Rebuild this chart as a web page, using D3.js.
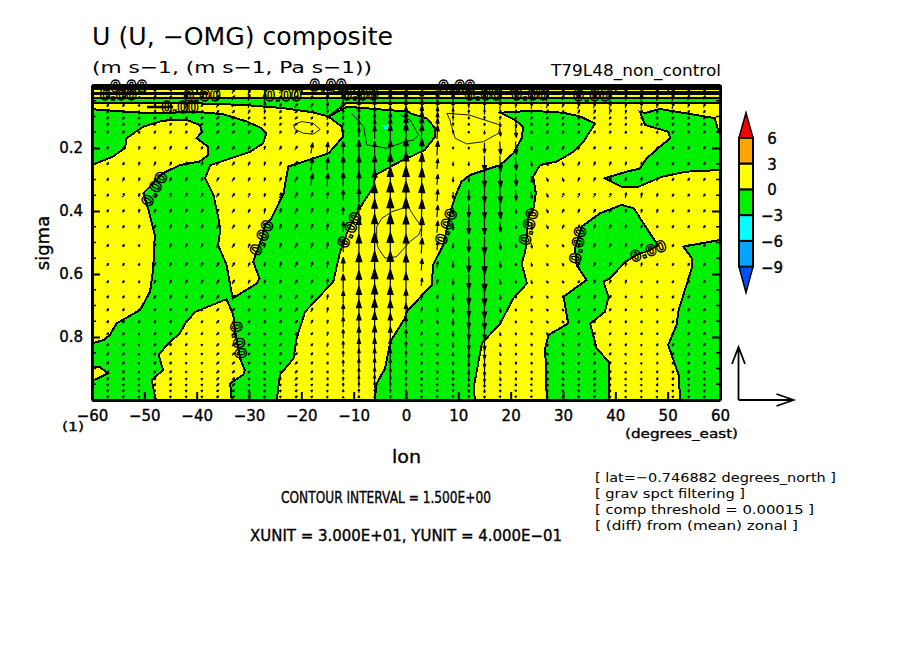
<!DOCTYPE html>
<html>
<head>
<meta charset="utf-8">
<script src="https://cdn.jsdelivr.net/npm/d3@7"></script>
<style>
body{margin:0;background:#fff;}
text{font-family:"DejaVu Sans",sans-serif;fill:#000;}
.heavy{stroke:#000;stroke-width:.35;}
.plot-shape{shape-rendering:crispEdges;}
</style>
</head>
<body>
<div id="canvas"></div>
<script>
// axis ticks and labels
var lonTicks = [-60,-50,-40,-30,-20,-10,0,10,20,30,40,50,60];
var sigmaMajor = [0,0.2,0.4,0.6,0.8,1];
var sigmaMinor = [0.05,0.1,0.15,0.25,0.3,0.35,0.45,0.5,0.55,0.65,0.7,0.75,0.85,0.9,0.95];

// colour bar
var barLevels = [-9,-6,-3,0,3,6];
var barColors = ['#00a5ff','#00ffff','#00f000','#ffff00','#ffa500'];
var barLabels = ['\u22129','\u22126','\u22123','0','3','6'];

// zero contour regions, [lon, sigma]
var greenWest = [[-60,.077],[-49,.09],[-40,.085],[-34.9,.093],[-30.4,.116],[-27.6,.137],[-26.7,.153],[-27.3,.185],[-29.8,.212],[-33.6,.233],[-37.4,.254],[-38.4,.296],[-36.8,.349],[-35.9,.418],[-35.5,.46],[-35.9,.508],[-34.3,.571],[-33.6,.635],[-33.1,.677],[-28.5,.63],[-28,.614],[-29.2,.561],[-28.5,.529],[-27.6,.487],[-26.9,.444],[-25.7,.423],[-23.4,.344],[-22.5,.259],[-17.7,.233],[-14.8,.217],[-12,.164],[-12.3,.132],[-14.8,.1005],[-11.3,.069],[.45,.0847],[.8,.09],[4,.106],[5.55,.137],[5.55,.164],[3.6,.206],[-1.14,.243],[-5.9,.286],[-6.2,.323],[-9.1,.397],[-11.3,.471],[-12.6,.529],[-13.9,.624],[-19.3,.72],[-20.9,.804],[-21.5,.868],[-24.1,.92],[-24.7,1],[-33.3,1],[-33.6,.947],[-31.1,.92],[-30.8,.905],[-31.7,.868],[-32.7,.778],[-33,.73],[-34.3,.68],[-40.3,.72],[-42.2,.757],[-43.2,.788],[-45.4,.82],[-47.3,.857],[-46.4,.905],[-48.6,.936],[-47.8,1],[-60,1],[-60,.94],[-56.9,.915],[-58.5,.896],[-60,.894],[-60,.82],[-57.8,.81],[-56.6,.794],[-55.3,.757],[-50.8,.714],[-48.9,.656],[-48.3,.582],[-48,.476],[-49.2,.397],[-50.2,.344],[-48.6,.317],[-46.4,.28],[-43.2,.254],[-39.4,.243],[-37.8,.222],[-37.8,.196],[-40,.169],[-39,.148],[-39.4,.127],[-41.9,.111],[-46.4,.113],[-50.2,.132],[-53.4,.169],[-53.7,.2],[-56,.227],[-60,.254]];
var greenMiddle = [[18,.088],[24,.082],[30,.088],[33.3,.1],[36.1,.122],[33.9,.18],[32,.212],[28.8,.243],[25.6,.254],[24.3,.291],[24.8,.344],[24.3,.397],[23.4,.418],[22.8,.529],[22.1,.566],[23.1,.63],[20.5,.677],[18,.757],[14.5,.82],[12.9,.963],[13.2,1],[-6,1],[-5.6,.947],[-4,.9],[-3,.815],[-.2,.74],[.13,.72],[4.9,.635],[5.2,.571],[7.1,.508],[8.7,.391],[9.4,.354],[10.6,.307],[12.2,.286],[18,.254],[20.5,.217],[22.1,.169],[22.4,.132],[20.8,.111]];
var greenLower = [[26.9,1],[26.6,.836],[27.2,.794],[31,.757],[30.1,.672],[34.5,.619],[32.6,.571],[32.3,.52],[33.6,.449],[37.1,.407],[41.2,.381],[43.5,.391],[46.6,.471],[47.9,.503],[48,.51],[46.6,.524],[44,.54],[42,.56],[38.9,.614],[37.7,.624],[38.7,.672],[38,.72],[35.2,.757],[36.4,.836],[38.7,.878],[38.7,1]];
var greenEdge = [[52.4,1],[52.1,.92],[51.1,.873],[50.1,.825],[51.7,.762],[52.1,.714],[54.6,.582],[54.6,.55],[53,.513],[60,.492],[60,1]];
var greenEast = [[44.7,.085],[45.7,.089],[48.5,.076],[59,.105],[59.7,.148],[60,.14],[60,.27],[53.6,.275],[48.9,.291],[44.4,.323],[41.2,.323],[38,.296],[42.2,.275],[44.7,.265],[46,.233],[48.2,.2],[50.5,.169],[50.1,.148],[45.7,.127]];
var greenStripeA = [[-60,.04],[60,.04],[60,.057],[40,.056],[20,.058],[0,.058],[-11.3,.056],[-14.8,.1],[-18,.086],[-23.7,.073],[-30.8,.0635],[-40,.058],[-60,.057]];
var greenStripeB = [[-60,.024],[-38,.024],[-38,.03],[-60,.03]];
var greenStripeC = [[-20,.024],[60,.022],[60,.029],[-20,.03]];
var greenStripeD = [[-60,.007],[60,.007],[60,.012],[-60,.012]];
var greenRegions = [greenWest,greenMiddle,greenLower,greenEdge,greenEast,greenStripeA,greenStripeB,greenStripeC,greenStripeD];

// below -3 patch
var cyanPatch = [[-4.6,.127],[-3.4,.125],[-2.1,.148],[-3.05,.141],[-4,.141]];

// thin contours at +-1.5
var thinWest = [[-21.5,.127],[-19.9,.116],[-17.7,.122],[-16.4,.141],[-17.7,.156],[-19.6,.153],[-21.2,.141],[-21.5,.127]];
var thinCentre = [[-10.4,.09],[-8.1,.132],[-7.5,.19],[-3.7,.201],[-.2,.18],[1.4,.175],[2.4,.159],[.8,.111],[-1.1,.095]];
var thinRing = [[-5.6,.45],[-4.6,.423],[-2.7,.402],[.45,.386],[.8,.397],[2,.428],[3,.45],[2.4,.476],[.77,.497],[-1.8,.545],[-4,.55],[-5.3,.518],[-5.6,.5],[-5.6,.45]];
var thinEast = [[7.8,.09],[12,.095],[18,.127],[17.7,.153],[14.8,.18],[11.6,.187],[9.4,.169],[8.7,.132],[8.4,.111],[7.8,.09]];
var thinContours = [thinWest,thinCentre,thinRing,thinEast];
// short piece of the zero line running into the label near the top left
var labelTail = [[-49.5,.07],[-44.5,.07]];

// contour labels: lon, sigma, angle
var zeroLabels = [[-48.1,.33,-60],[-32,.81,80],[-27.6,.485,-65],[-10.8,.46,-65],[7.65,.45,-70],[23.4,.45,-75],[32.8,.508,-80],[46.3,.527,-20],[-53,.006,0],[-55,.03,0],[-43.2,.073,0],[-39,.035,0],[-23.5,.035,0],[-14.9,.003,0],[-8.8,.032,0],[9.7,.006,0],[14.7,.03,0],[23.7,.03,0],[35.5,.035,0]];

// vectors: grid and values (omega in 0.01 Pa/s, up is positive, u in m/s)
var vecLons = [-57,-54,-51,-48,-45,-42,-39,-36,-33,-30,-27,-24,-21,-18,-15,-12,-9,-6,-3,0,3,6,9,12,15,18,21,24,27,30,33,36,39,42,45,48,51,54,57];
var vecSigma = [.02,.04,.065,.085,.105,.125,.15,.2,.25,.3,.35,.4,.45,.51,.57,.625,.673,.714,.752,.79,.825,.854,.883,.911,.933,.952,.971,.99];
var uByLon = [1,1,.5,1,1,1,1,1.5,1.5,1,.5,1,1.5,1,.5,0,0,0,0,0,.5,.5,0,0,0,.5,.5,.5,1,1,1,1,1,.5,.5,.5,1,1,1];
var omgRows = [
 [3,4,2,5,3,9,3,4,3,6,9,3,4, 3,6,9,12,10,8,10,12,10,9,6,9,8, 6,7,6,5,7,6,9,6,8,6,7,5,4],
 [3,3,2,4,3,8,3,4,3,5,8,3,3, 3,6,8,11,9,8,9,11,9,8,5,8,7, 5,6,5,4,6,5,8,5,7,5,6,4,3],
 [2,2,2,3,2,5,2,3,2,4,6,3,3, 3,5,7,9,8,7,9,10,8,7,4,6,6, 4,5,4,3,5,4,6,4,6,4,5,3,3],
 [2,2,2,3,2,3,2,2,2,3,3,2,2, 2,3,4,6,7,8,9,10,7,5,3,4,3, 3,3,3,2,3,3,4,3,3,3,3,2,2],
 [2,2,2,2,2,2,2,2,2,2,2,2,2, 2,3,3,5,7,9,11,11,8,4,2,3,3, 2,2,2,2,2,2,2,2,2,2,2,2,2],
 [2,2,2,2,2,2,2,2,2,2,2,2,2, 2,3,3,5,8,10,13,12,9,3,2,-2,-4, -5,2,2,2,2,2,2,2,2,2,2,2,2],
 [2,2,2,2,2,2,2,2,2,2,2,2,3, 3,3,4,7,10,12,14,12,10,3,2,-3,-6, -8,2,2,2,2,2,2,2,2,2,2,2,2],
 [2,2,3,2,3,2,2,3,2,3,3,3,3, 8,9,10,12,10,12,15,14,11,2,-2,-8,-10, -10,-3,3,3,3,2,2,2,2,2,2,2,2],
 [2,2,3,3,3,3,3,3,3,3,3,3,4, 10,10,11,12,13,16,18,16,8,-3,-3,-12,-12, -10,-4,-3,-3,3,3,3,3,3,3,2,2,2],
 [2,3,3,3,3,3,3,3,3,3,3,3,4, 9,10,11,12,15,19,20,17,8,-4,-4,-12,-12, -10,-5,-3,-3,3,3,3,3,4,3,2,2,2],
 [2,3,3,3,3,3,3,3,3,3,3,4,4, 4,5,8,11,17,21,21,18,9,-5,-8,-12,-12, -8,-5,-3,3,3,3,3,4,4,3,2,2,2],
 [2,2,3,3,3,3,3,3,3,3,4,4,4, 4,4,6,11,18,21,20,17,9,-5,-10,-12,-12, -4,-5,-3,3,3,3,3,3,3,3,2,2,2],
 [2,2,3,3,3,3,3,3,3,3,3,4,4, 4,5,8,14,19,20,18,15,9,-5,-11,-12,-8, -3,-5,-3,3,3,3,3,3,3,2,2,2,2],
 [2,2,2,3,3,3,3,3,3,3,3,4,4, 4,5,10,17,20,20,17,12,7,-4,-10,-14,-6, -3,-4,-2,-2,3,3,3,3,3,2,2,2,2],
 [2,2,2,3,3,3,3,3,3,3,3,4,4, 4,5,11,18,20,20,16,9,5,-5,-12,-15,-5, -2,-3,-2,-2,3,3,3,3,3,2,2,2,2],
 [2,2,2,3,3,3,3,3,3,3,3,3,3, 3,5,12,17,20,19,14,6,4,-5,-12,-15,-4, -2,-3,-2,-2,2,3,3,3,2,2,2,2,2],
 [2,2,2,3,3,2,3,3,3,2,2,3,3, 3,4,10,16,19,17,12,5,3,-5,-12,-14,-4, -2,-2,-2,-2,2,3,3,2,2,2,2,2,2],
 [2,2,2,2,2,2,2,2,2,2,2,3,3, 3,4,9,15,17,15,10,4,-3,-5,-11,-13,-4, -2,-2,-2,-2,2,2,2,2,2,2,2,2,2],
 [2,2,2,2,2,2,2,2,2,2,2,2,2, 3,3,8,13,15,13,8,3,-3,-5,-10,-12,-3, -2,-2,-2,-2,2,2,2,2,2,2,2,2,2],
 [2,2,1,2,2,2,2,2,2,2,1,2,2, 2,3,7,11,13,11,7,3,-2,-4,-9,-10,-3, -2,-2,-2,-2,2,2,2,2,2,2,2,2,2],
 [2,2,1,2,2,2,1,2,2,2,1,2,2, 2,3,6,10,11,9,6,2,-2,-4,-8,-9,-3, -2,-2,-2,-2,2,2,2,2,1,2,2,2,2],
 [2,2,1,2,2,1,1,2,2,2,1,2,2, 2,2,5,8,9,8,5,2,-2,-3,-7,-8,-3, -2,-2,-2,-2,1,2,2,1,1,2,2,2,2],
 [2,2,1,2,2,1,1,2,2,2,1,1,2, 2,2,5,7,8,7,4,2,-2,-3,-6,-7,-3, -2,-2,-2,-2,1,2,2,1,1,2,2,2,2],
 [2,2,1,2,2,1,1,2,2,2,1,1,2, 2,2,4,6,7,6,4,2,-2,-3,-5,-6,-3, -2,-2,-2,-2,1,2,2,1,1,2,2,2,1],
 [2,2,1,2,2,1,1,2,2,1,1,1,2, 1,2,3,5,6,5,3,2,-1,-2,-4,-5,-3, -2,-2,-2,-2,1,2,2,1,1,2,2,1,1],
 [1,1,1,2,2,1,1,2,2,1,1,1,1, 1,2,3,4,5,4,3,1,-1,-2,-3,-4,-2, -2,-1,-2,-2,1,2,1,1,1,2,1,1,1],
 [1,1,1,1,1,1,1,1,1,1,1,1,1, 1,1,2,3,3,3,2,1,-1,-1,-2,-3,-2, -1,-1,-1,-1,1,1,1,1,1,1,1,1,1],
 [1,1,1,1,1,1,1,1,1,1,1,1,1, 1,1,1,2,2,2,1,1,-1,-1,-1,-2,-1, -1,-1,-1,-1,1,1,1,1,1,1,1,1,1]
];

var infoLines = ['[ lat=\u22120.746882 degrees_north ]','[ grav spct filtering ]','[ comp threshold = 0.00015 ]','[ (diff) from (mean) zonal ]'];
var infoWidths = [241,150,219,203];

var svg = d3.select('#canvas').append('svg')
    .attr('width',904)
    .attr('height',654)
    .style('display','block');

// scales
var x = d3.scaleLinear().domain([-60,60]).range([92,720]);
var y = d3.scaleLinear().domain([0,1]).range([85,400]);
var xUnit = d3.scaleLinear().domain([0,30]).range([0,55]);   // XUNIT = 30 m/s
var yUnit = d3.scaleLinear().domain([0,40]).range([0,53]);   // YUNIT = 0.4 Pa/s
var barY = d3.scaleLinear().domain([-9,6]).range([266.7,137.7]);

var line = d3.line().x(function(d){return x(d[0]);}).y(function(d){return y(d[1]);});

svg.append('clipPath').attr('id','plotclip').append('rect')
    .attr('x',x(-60)).attr('y',y(0)).attr('width',x(60)-x(-60)).attr('height',y(1)-y(0));

var plot = svg.append('g').attr('class','plot').attr('clip-path','url(#plotclip)');

plot.append('rect')
    .attr('x',x(-60)).attr('y',y(0)).attr('width',x(60)-x(-60)).attr('height',y(1)-y(0))
    .attr('fill','#ffff00');

plot.selectAll('.green').data(greenRegions).enter().append('path')
    .attr('class','green plot-shape')
    .attr('d',function(d){return line(d)+'Z';})
    .attr('fill','#00f000')
    .attr('stroke','#000')
    .attr('stroke-width',2);

plot.append('path').attr('class','plot-shape')
    .attr('d',line(cyanPatch)+'Z')
    .attr('fill','#00ffff');

plot.selectAll('.thin').data(thinContours).enter().append('path')
    .attr('class','thin')
    .attr('d',line)
    .attr('fill','none')
    .attr('stroke','#000')
    .attr('stroke-width',.9);

plot.append('path').attr('d',line(labelTail)).attr('stroke','#000').attr('stroke-width',2.5).attr('fill','none');

// vectors, centred on the grid point
var vectors = [];
vecSigma.forEach(function(s,i){
    vecLons.forEach(function(lon,j){
        vectors.push({lon:lon,sigma:s,u:uByLon[j],omg:omgRows[i][j]});
    });
});

plot.selectAll('.vec').data(vectors).enter().append('path')
    .attr('class','vec')
    .attr('fill','#000')
    .attr('stroke','#000')
    .attr('stroke-width',1.2)
    .attr('d',function(d){
        var dx = xUnit(d.u), dy = -Math.sign(d.omg)*yUnit(Math.abs(d.omg));
        var len = Math.sqrt(dx*dx+dy*dy);
        var cx = x(d.lon), cy = y(d.sigma);
        var ux = dx/len, uy = dy/len;
        var tipx = cx+dx/2, tipy = cy+dy/2;
        var hl = Math.max(1.5,len*.38), hw = Math.max(.6,hl*.32);
        var bx = tipx-ux*hl, by = tipy-uy*hl;
        var p = d3.path();
        p.moveTo(cx-dx/2,cy-dy/2);
        p.lineTo(tipx,tipy);
        p.lineTo(bx-uy*hw,by+ux*hw);
        p.lineTo(bx+uy*hw,by-ux*hw);
        p.lineTo(tipx,tipy);
        return p.toString();
    });

// contour labels
svg.selectAll('.zero').data(zeroLabels).enter().append('text')
    .attr('class','zero')
    .attr('transform',function(d){return 'translate('+x(d[0])+','+y(d[1])+') rotate('+d[2]+')';})
    .attr('text-anchor','middle')
    .attr('dy','.36em')
    .attr('font-size',15)
    .attr('font-weight','bold')
    .style('fill','none')
    .attr('stroke','#000')
    .attr('stroke-width',1.3)
    .text('0.00');

// axes
var axisStyle = function(g){
    g.select('.domain').attr('stroke','#000').attr('stroke-width',3);
    g.selectAll('line').attr('stroke','#000').attr('stroke-width',2);
    g.selectAll('text').attr('class','heavy').attr('font-size',15).style('font-family','"DejaVu Sans",sans-serif');
};

svg.append('g').attr('transform','translate(0,'+y(1)+')')
    .call(d3.axisBottom(x).tickValues(lonTicks).tickSizeInner(-8).tickSizeOuter(0).tickPadding(10)
        .tickFormat(function(d){return String(d).replace('-','\u2212');}))
    .call(axisStyle);
svg.append('g').attr('transform','translate(0,'+y(0)+')')
    .call(d3.axisTop(x).tickValues(lonTicks).tickSizeInner(-8).tickSizeOuter(0).tickFormat(''))
    .call(axisStyle);
svg.append('g').attr('transform','translate('+x(-60)+',0)')
    .call(d3.axisLeft(y).tickValues(sigmaMajor).tickSizeInner(-8).tickSizeOuter(0).tickPadding(9)
        .tickFormat(function(d){return (d==0||d==1)?'':d3.format('.1f')(d);}))
    .call(axisStyle);
svg.append('g').attr('transform','translate('+x(60)+',0)')
    .call(d3.axisRight(y).tickValues(sigmaMajor).tickSizeInner(-8).tickSizeOuter(0).tickFormat(''))
    .call(axisStyle);

svg.selectAll('.minorL').data(sigmaMinor).enter().append('line')
    .attr('x1',x(-60)).attr('x2',x(-60)+4)
    .attr('y1',function(d){return y(d);}).attr('y2',function(d){return y(d);})
    .attr('stroke','#000').attr('stroke-width',1.5);
svg.selectAll('.minorR').data(sigmaMinor).enter().append('line')
    .attr('x1',x(60)).attr('x2',x(60)-4)
    .attr('y1',function(d){return y(d);}).attr('y2',function(d){return y(d);})
    .attr('stroke','#000').attr('stroke-width',1.5);

// colour bar
var bar = svg.append('g').attr('class','bar');
bar.selectAll('rect').data(barColors).enter().append('rect')
    .attr('x',739).attr('width',14)
    .attr('y',function(d,i){return barY(barLevels[i+1]);})
    .attr('height',function(d,i){return barY(barLevels[i])-barY(barLevels[i+1]);})
    .attr('fill',function(d){return d;})
    .attr('stroke','#000').attr('stroke-width',2);
bar.append('path').attr('d','M739,'+barY(6)+'L746,112.7L753,'+barY(6)+'Z')
    .attr('fill','#ff0000').attr('stroke','#000').attr('stroke-width',1.5);
bar.append('path').attr('d','M739,'+barY(-9)+'L746,292.7L753,'+barY(-9)+'Z')
    .attr('fill','#0050ff').attr('stroke','#000').attr('stroke-width',1.5);
bar.selectAll('text').data(barLabels).enter().append('text')
    .attr('class','heavy')
    .attr('x',772)
    .attr('y',function(d,i){return barY(barLevels[i])+6;})
    .attr('text-anchor','middle')
    .attr('font-size',15)
    .text(function(d){return d;});

// reference vectors
var refArrows = svg.append('g').attr('fill','none').attr('stroke','#000').attr('stroke-width',1.8);
refArrows.append('path').attr('d','M738.5,400V'+(400-yUnit(40))+'M732,'+(400-yUnit(40)+17)+'L738.5,'+(400-yUnit(40))+'L745,'+(400-yUnit(40)+17));
refArrows.append('path').attr('d','M738.5,400H'+(738.5+xUnit(30))+'M'+(738.5+xUnit(30)-17)+',394L'+(738.5+xUnit(30))+',400L'+(738.5+xUnit(30)-17)+',406');

// titles
function label(txt,px,py,size,width,cls){
    var t = svg.append('text').attr('x',px).attr('y',py).attr('font-size',size).text(txt);
    if(width) t.attr('textLength',width).attr('lengthAdjust','spacingAndGlyphs');
    if(cls) t.attr('class',cls);
    return t;
}
label('U (U, \u2212OMG) composite',92,45,24,301);
label('(m s\u22121, (m s\u22121, Pa s\u22121))',92,73,16.5,280);
label('T79L48_non_control',551,76,15.5,170);
label('(1)',62,431,13,22,'heavy');
label('lon',392,463,18,29,'heavy');
label('(degrees_east)',625,438,13,113,'heavy');
label('CONTOUR INTERVAL = 1.500E+00',281,503,15,210,'heavy');
label('XUNIT = 3.000E+01, YUNIT = 4.000E\u221201',250,541,15,312,'heavy');
svg.append('text').attr('class','heavy').attr('transform','translate(49,243) rotate(-90)')
    .attr('text-anchor','middle').attr('font-size',18).text('sigma');
infoLines.forEach(function(s,i){
    label(s,595,482+i*16,13,infoWidths[i]);
});
</script>
</body>
</html>
